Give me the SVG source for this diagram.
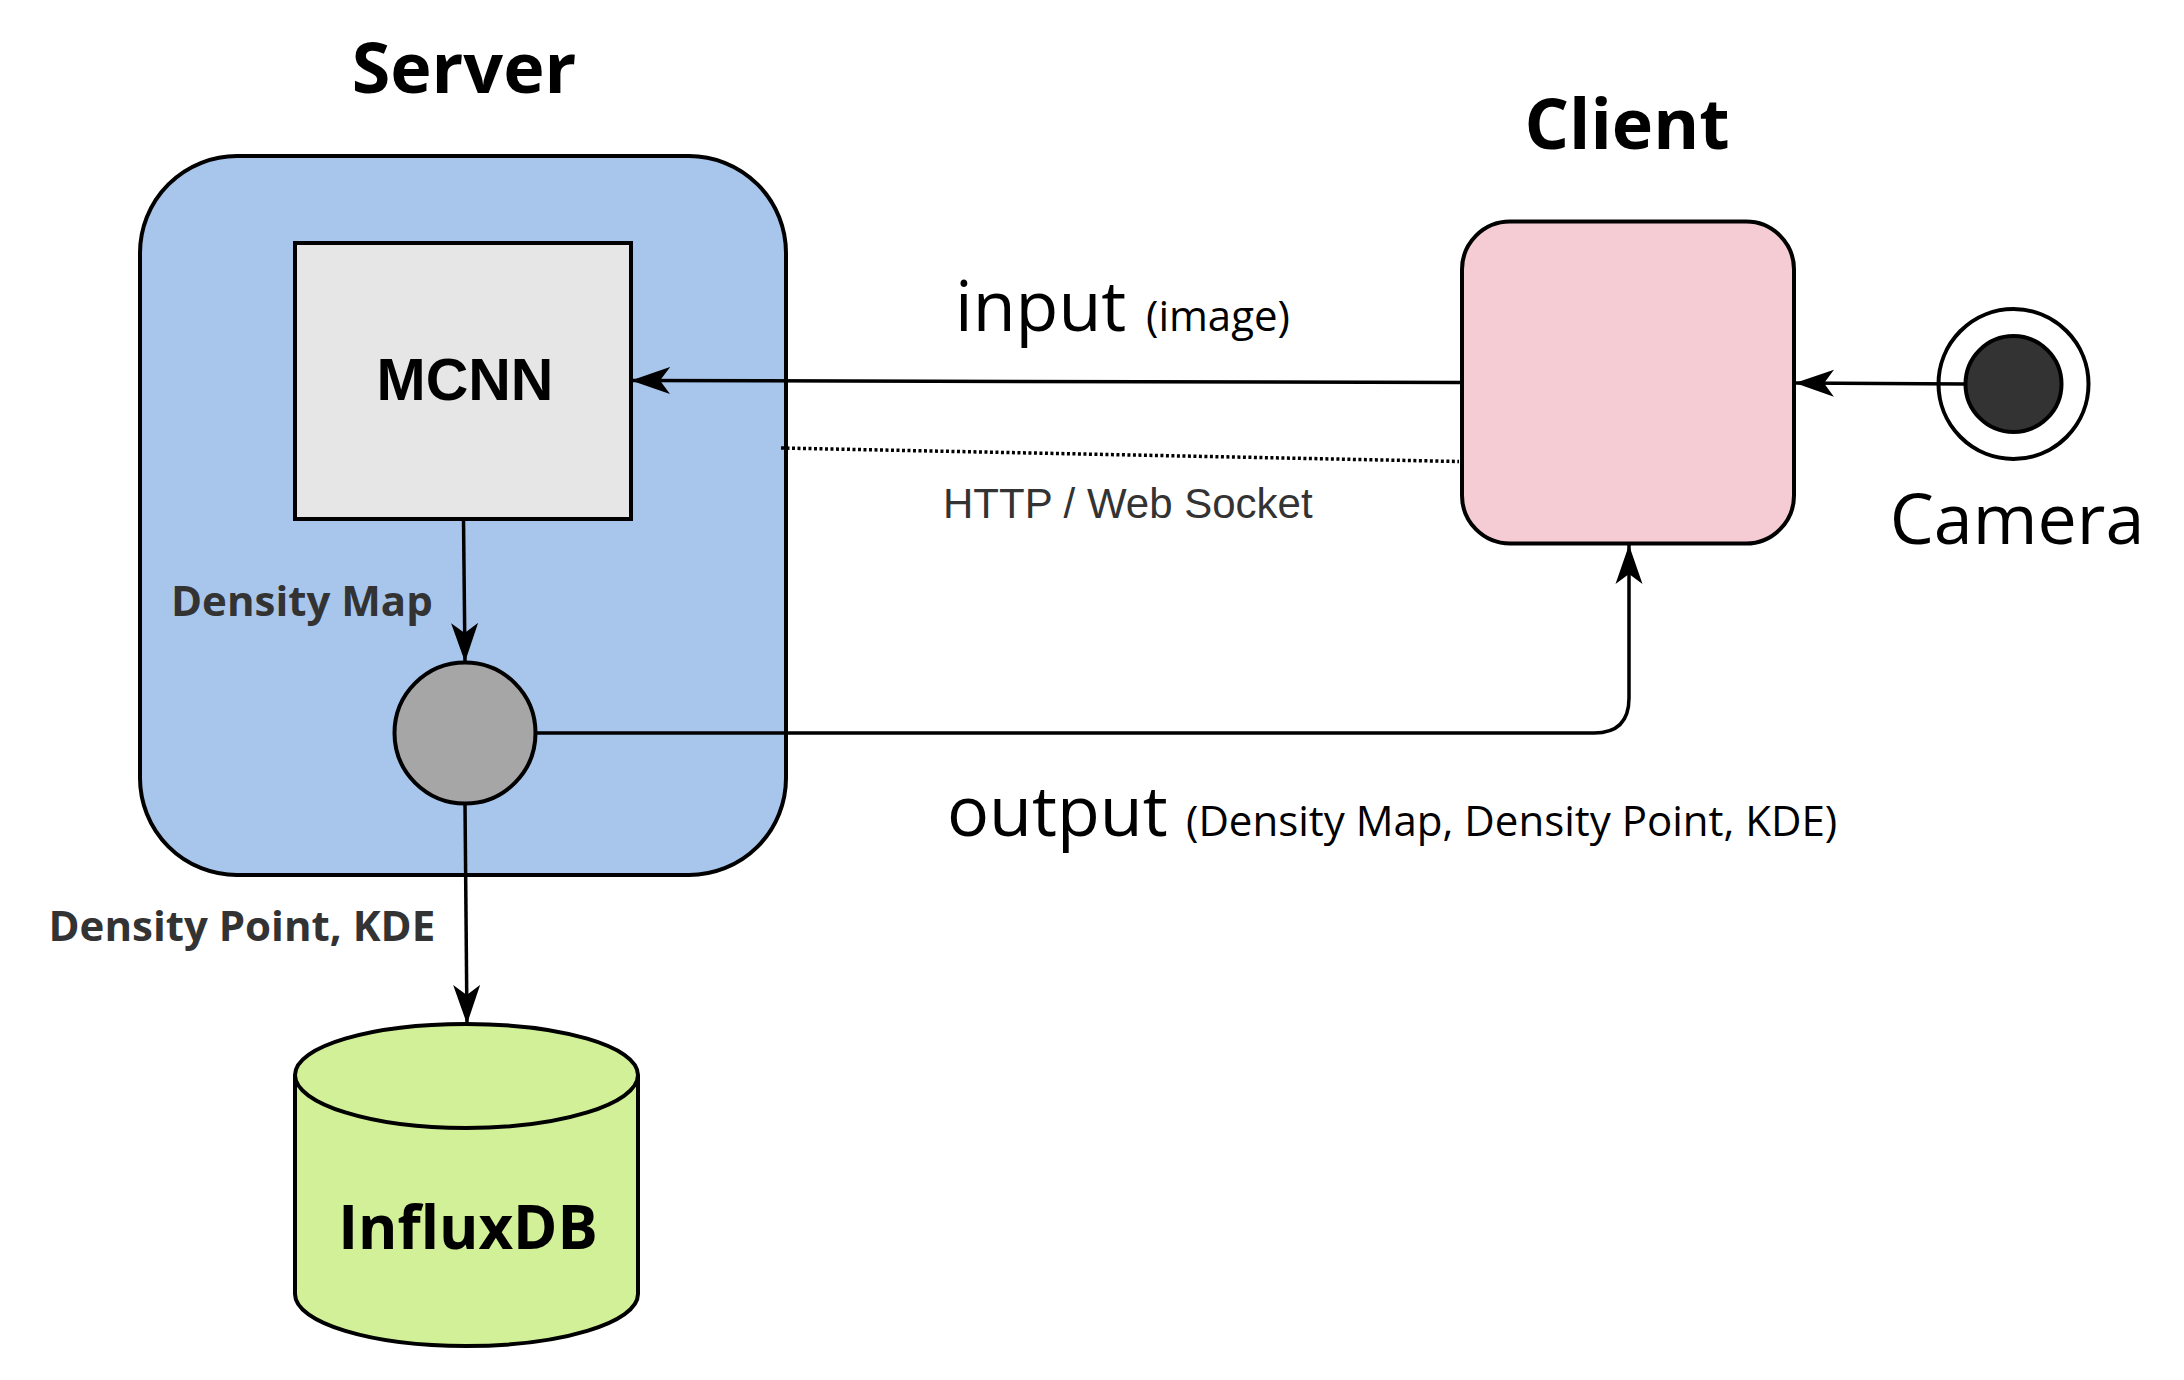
<svg xmlns="http://www.w3.org/2000/svg" width="2184" height="1380" viewBox="0 0 2184 1380">
<style>
.s{stroke:#000;stroke-width:4}
.c{fill:none;stroke:#000;stroke-width:3.5}
.o{font-family:"Open Sans","Noto Sans",sans-serif}
.b{font-weight:700}
.h{font-size:70px;fill:#000}
.m{font-size:42px;fill:#333}
.l{font-size:70px;fill:#000}
.p{font-size:42px;fill:#000}
</style>
<defs>
<marker id="a" markerUnits="userSpaceOnUse" markerWidth="42" markerHeight="32" refX="39" refY="15" orient="auto">
<path d="M0 1.5L39 15L0 28.5L10 15Z" fill="#000"/>
</marker>
</defs>
<rect width="2184" height="1380" fill="#fff"/>
<g id="server">
<rect class="s" x="140" y="156" width="646" height="719" rx="97" ry="97" fill="#a8c6ec"/>
<text class="o b h" x="464" y="93" text-anchor="middle">Server</text>
</g>
<g id="mcnn">
<rect class="s" x="295" y="243" width="336" height="276" fill="#e6e6e6"/>
<text x="465" y="400" text-anchor="middle" font-family="'Liberation Sans',Arial,sans-serif" font-weight="700" font-size="59" fill="#000">MCNN</text>
</g>
<g id="merge">
<circle class="s" cx="465" cy="733" r="70.5" fill="#a6a6a6"/>
</g>
<g id="influxdb">
<path class="s" d="M295 1075C295 1046 372 1024 466 1024C560 1024 638 1046 638 1075V1294C638 1323 560 1346 466 1346C372 1346 295 1323 295 1294Z" fill="#d1f098"/>
<path class="s" d="M295 1075C295 1104 372 1128 466 1128C560 1128 638 1104 638 1075" fill="none"/>
<text class="o b" x="468" y="1249" text-anchor="middle" font-size="60" fill="#000">InfluxDB</text>
</g>
<g id="client">
<rect class="s" x="1462" y="221.500" width="332" height="322" rx="48" ry="48" fill="#f5cbd4"/>
<text class="o b h" x="1627" y="149" text-anchor="middle">Client</text>
</g>
<g id="camera">
<circle class="s" cx="2013.500" cy="384" r="75" fill="#fff"/>
<circle class="s" cx="2013.500" cy="384" r="48" fill="#333"/>
<text class="o l" x="2017" y="544" text-anchor="middle">Camera</text>
</g>
<g id="connectors">
<path class="c" marker-end="url(#a)" d="M1462 382.500L631 380.500"/>
<path class="c" d="M781 448L1459 461.500" stroke-dasharray="3 2.5"/>
<path class="c" marker-end="url(#a)" d="M463.500 519L465 662"/>
<path class="c" marker-end="url(#a)" d="M465 804L467 1024"/>
<path class="c" marker-end="url(#a)" d="M536 733H1594Q1629 733 1629 698V545"/>
<path class="c" marker-end="url(#a)" d="M1966 384L1795 383"/>
</g>
<g id="labels">
<text class="o b m" x="171" y="616">Density Map</text>
<text class="o b m" x="48.500" y="941">Density Point, KDE</text>
<text class="o l" x="955" y="331">input</text>
<text class="o p" x="1146" y="331">(image)</text>
<text x="943" y="518" font-family="'Liberation Sans',Arial,sans-serif" font-size="42" fill="#333">HTTP / Web Socket</text>
<text class="o l" x="947" y="836">output</text>
<text class="o p" x="1186" y="836">(Density Map, Density Point, KDE)</text>
</g>
</svg>
